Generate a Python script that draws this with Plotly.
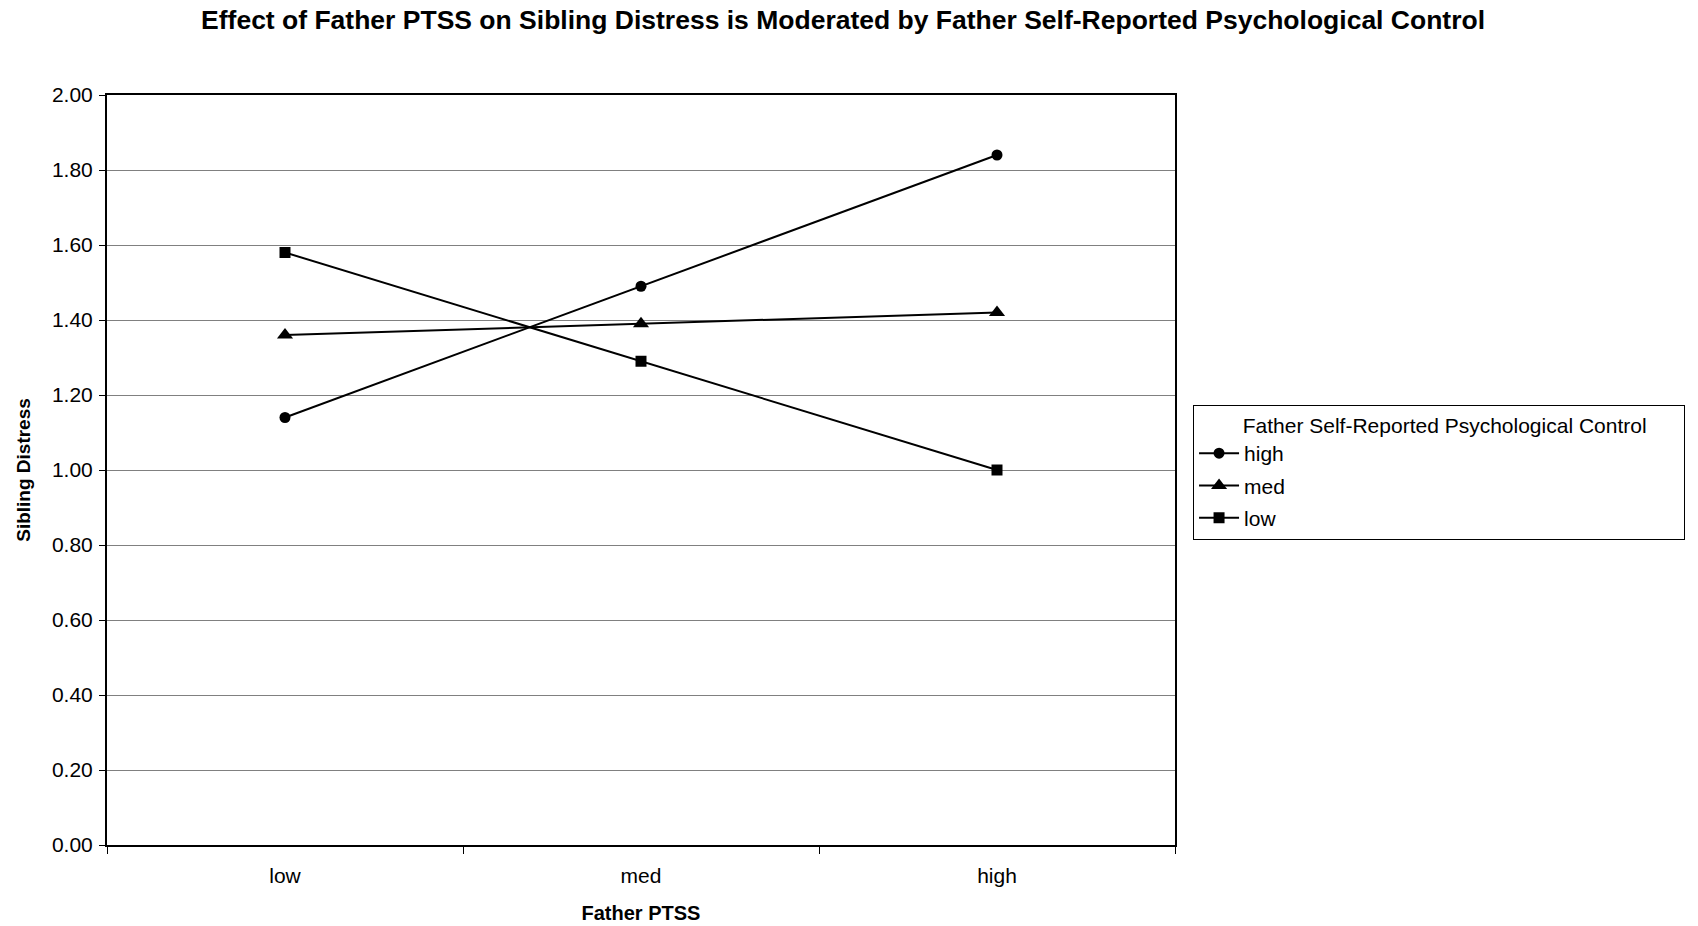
import plotly.graph_objects as go

# Father PTSS levels (x categories)
ptss_levels = ["low", "med", "high"]

# Sibling distress by father self-reported psychological control
control_high = [1.14, 1.49, 1.84]
control_med = [1.36, 1.39, 1.42]
control_low = [1.58, 1.29, 1.00]

series_names = ["high", "med", "low"]
series_symbols = ["circle", "triangle-up", "square"]
series_sizes = [11, 14, 11]

y_ticks = [0.0, 0.2, 0.4, 0.6, 0.8, 1.0, 1.2, 1.4, 1.6, 1.8, 2.0]

FONT = "Liberation Sans, Arial, sans-serif"
NBSP = "\u00a0"

fig = go.Figure()
for name, values, sym, sz in zip(series_names, [control_high, control_med, control_low],
                                 series_symbols, series_sizes):
    fig.add_trace(go.Scatter(
        x=ptss_levels,
        y=values,
        mode="lines+markers",
        name=name,
        legendgroup=name,
        line=dict(color="black", width=2),
        marker=dict(symbol=sym, size=sz, color="black"),
    ))

fig.update_layout(
    width=1698,
    height=926,
    paper_bgcolor="white",
    plot_bgcolor="white",
    margin=dict(l=107, r=523, t=95, b=81),
    font=dict(family=FONT, size=21, color="black"),
    title=dict(
        text="<b>Effect of Father PTSS on Sibling Distress is Moderated by Father Self-Reported Psychological Control</b>",
        x=0.4965, xanchor="center",
        y=0.979, yanchor="middle",
        font=dict(family=FONT, size=26.5, color="black"),
    ),
    showlegend=True,
    legend=dict(
        title=dict(text=NBSP * 8 + "Father Self-Reported Psychological Control" + NBSP * 6,
                   side="top", font=dict(family=FONT, size=21)),
        x=1.0169, xanchor="left",
        y=0.587, yanchor="top",
        bordercolor="black",
        borderwidth=1,
        bgcolor="white",
        font=dict(family=FONT, size=21),
        itemwidth=40,
        tracegroupgap=2,
    ),
)

fig.update_xaxes(
    type="category",
    categoryorder="array",
    categoryarray=ptss_levels,
    range=[-0.5, 2.5],
    tickson="boundaries",
    ticks="outside",
    ticklen=7,
    tickcolor="black",
    tickwidth=1,
    ticklabelstandoff=11,
    showline=True,
    linecolor="black",
    linewidth=2,
    mirror=True,
    showgrid=False,
    automargin=False,
    tickfont=dict(family=FONT, size=21),
    title=dict(text="<b>Father PTSS</b>", font=dict(family=FONT, size=20), standoff=20),
)

fig.update_yaxes(
    range=[0, 2.0],
    tickvals=y_ticks,
    ticktext=[f"{v:.2f}" for v in y_ticks],
    ticks="outside",
    ticklen=6,
    tickcolor="black",
    tickwidth=1,
    ticklabelstandoff=2,
    showline=True,
    linecolor="black",
    linewidth=2,
    mirror=True,
    showgrid=True,
    gridcolor="#808080",
    gridwidth=1,
    zeroline=False,
    automargin=False,
    tickfont=dict(family=FONT, size=21),
    title=dict(text="<b>Sibling Distress</b>", font=dict(family=FONT, size=19), standoff=16),
)

fig.write_html("out.html")
